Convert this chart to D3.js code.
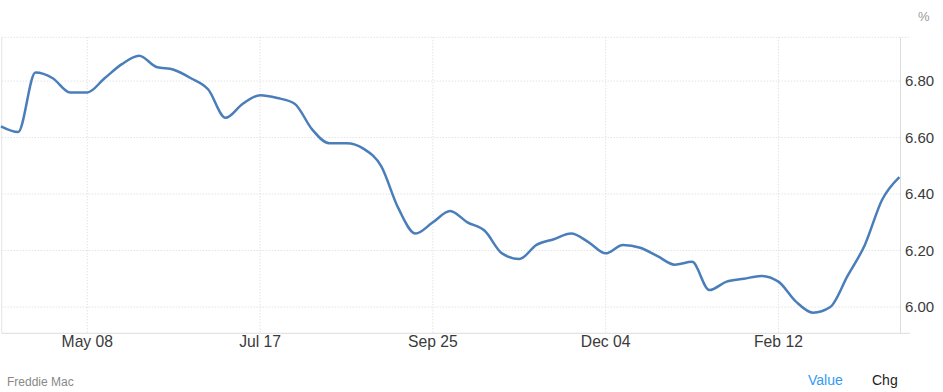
<!doctype html>
<html>
  <head>
    <script src="https://cdnjs.cloudflare.com/ajax/libs/d3/7.8.5/d3.min.js"></script>
  <style>
    body {
      margin: 0;
      background: #fff;
      font-family: "Liberation Sans", Arial, sans-serif;
    }
    .grid line {
      stroke: #d6d6d6;
      stroke-dasharray: 1,2;
    }
    .tick-label {
      fill: #3a3a3a;
      font-size: 15px;
    }
    .tick-label.x {
      font-size: 15.7px;
    }
    path.rate {
      fill: none;
      stroke: #4a7ebb;
      stroke-width: 2.5;
    }
  </style>
  </head>
  <body>
    <svg id="chart" width="943" height="392"></svg>
    <script>
      // weekly 30yr fixed rate, first week is Apr 3 2025
      var startDate = "2025-04-03";
      var rates = [6.64, 6.62, 6.83, 6.81, 6.76, 6.76, 6.81, 6.86, 6.89, 6.85,
                   6.84, 6.81, 6.77, 6.67, 6.72, 6.75, 6.74, 6.72, 6.63, 6.58,
                   6.58, 6.56, 6.50, 6.35, 6.26, 6.30, 6.34, 6.30, 6.27, 6.19,
                   6.17, 6.22, 6.24, 6.26, 6.23, 6.19, 6.22, 6.21, 6.18, 6.15,
                   6.16, 6.06, 6.09, 6.10, 6.11, 6.09, 6.02, 5.98, 6.00, 6.11,
                   6.22, 6.38, 6.46];
      var xTicks = ["2025-05-08", "2025-07-17", "2025-09-25", "2025-12-04", "2026-02-12"];
      var yTicks = [6.00, 6.20, 6.40, 6.60, 6.80];

      var parse = d3.timeParse("%Y-%m-%d");
      var t0 = parse(startDate);
      var data = rates.map((v, i) => ({ date: d3.timeDay.offset(t0, i * 7), value: v }));

      var plotLeft = 1.7, plotRight = 900.5, plotTop = 37.3, plotBottom = 333.3;

      var xScale = d3.scaleTime()
        .domain([t0, data[data.length - 1].date])
        .range([0.9, 899.4]);
      var yScale = d3.scaleLinear().domain([5.907, 6.955]).range([plotBottom, plotTop]);

      var svg = d3.select("#chart");

      // grid
      var grid = svg.append("g").attr("class", "grid");
      grid.selectAll("line.h").data(yTicks).enter().append("line")
        .attr("x1", plotLeft).attr("x2", plotRight)
        .attr("y1", d => yScale(d)).attr("y2", d => yScale(d));
      grid.selectAll("line.v").data(xTicks).enter().append("line")
        .attr("x1", d => xScale(parse(d))).attr("x2", d => xScale(parse(d)))
        .attr("y1", plotTop).attr("y2", plotBottom);
      grid.append("line")
        .attr("x1", plotLeft).attr("x2", 910)
        .attr("y1", plotTop).attr("y2", plotTop);

      // frame lines
      svg.append("line").attr("x1", plotLeft).attr("x2", 910).attr("y1", plotBottom).attr("y2", plotBottom)
        .attr("stroke", "#dcdcdc");
      svg.append("line").attr("x1", plotRight).attr("x2", plotRight).attr("y1", plotTop).attr("y2", plotBottom)
        .attr("stroke", "#dcdcdc");
      svg.append("line").attr("x1", plotLeft).attr("x2", plotLeft).attr("y1", plotTop).attr("y2", plotBottom)
        .attr("stroke", "#e4e4e4");

      // line
      var rateLine = d3.line()
        .x(d => xScale(d.date))
        .y(d => yScale(d.value))
        .curve(d3.curveMonotoneX);
      svg.append("path").attr("class", "rate").attr("d", rateLine(data));

      // y labels
      svg.selectAll("text.y").data(yTicks).enter().append("text")
        .attr("class", "tick-label y")
        .attr("x", 905)
        .attr("y", d => yScale(d))
        .attr("dy", "0.36em")
        .text(d => d3.format(".2f")(d));

      // x labels
      var fmt = d3.timeFormat("%b %d");
      svg.selectAll("text.x").data(xTicks).enter().append("text")
        .attr("class", "tick-label x")
        .attr("x", d => xScale(parse(d)))
        .attr("y", 347)
        .attr("text-anchor", "middle")
        .text(d => fmt(parse(d)));

      svg.append("text").attr("x", 918).attr("y", 21)
        .attr("fill", "#999").attr("font-size", "13px").text("%");
      svg.append("text").attr("x", 7).attr("y", 386)
        .attr("fill", "#888").attr("font-size", "12px").text("Freddie Mac");
      svg.append("text").attr("x", 808).attr("y", 385)
        .attr("fill", "#3399f3").attr("font-size", "14px").text("Value");
      svg.append("text").attr("x", 872).attr("y", 385)
        .attr("fill", "#222").attr("font-size", "14px").text("Chg");
    </script>
  </body>
</html>
